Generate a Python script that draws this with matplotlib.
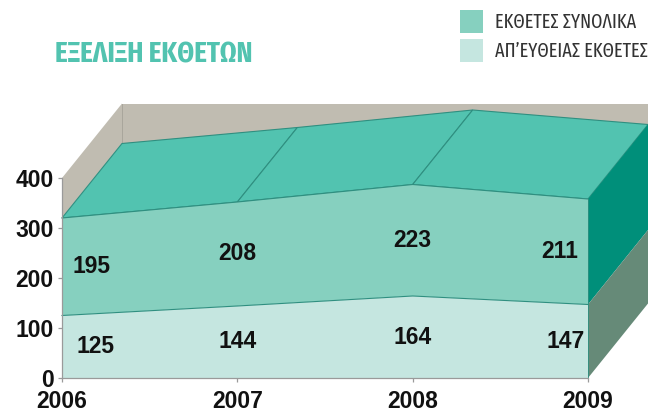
import matplotlib
matplotlib.use("Agg")
import matplotlib.pyplot as plt
import numpy as np
from matplotlib.patches import Patch

years = ["2006", "2007", "2008", "2009"]
direct = [125, 144, 164, 147]
total_extra = [195, 208, 223, 211]
yticks = [0, 100, 200, 300, 400]
title = "ΕΞΕΛΙΞΗ ΕΚΘΕΤΩΝ"
legend_labels = ["ΕΚΘΕΤΕΣ ΣΥΝΟΛΙΚΑ", "ΑΠ’ΕΥΘΕΙΑΣ ΕΚΘΕΤΕΣ"]

W, H = 648, 412
fig = plt.figure(figsize=(W/100, H/100), dpi=100, facecolor="white")
ax = fig.add_axes([62/W, (H-378)/H, (588-62)/W, 200/H])
ax.set_xlim(0, 3); ax.set_ylim(0, 400)
ax.patch.set_visible(False)

DX = 60/(526/3)   # depth offset in category units
DY = 149          # depth offset in value units
C_WALL = "#c0bcb1"; C_TOP = "#52c3b0"; C_MID = "#86d0bf"; C_LOW = "#c5e6e0"
C_SIDE1 = "#008f7a"; C_SIDE2 = "#668a78"; C_EDGE = "#2f8f80"

x = np.arange(len(years))
low = np.array(direct, float)
top = low + np.array(total_extra, float)
ymax = yticks[-1]

kw = dict(clip_on=False)
ax.fill([0, DX, DX, 0], [top[0], top[0]+DY, ymax+DY, ymax], color=C_WALL, lw=0, zorder=1, **kw)
ax.fill([DX, 3+DX, 3+DX, DX], [top[0]+DY, top[0]+DY, ymax+DY, ymax+DY], color=C_WALL, lw=0, zorder=1, **kw)
ax.plot([DX, DX], [top[0]+DY, ymax+DY], color="#a9a69c", lw=0.7, zorder=1.5, **kw)
for i in range(3):
    ax.fill([x[i], x[i+1], x[i+1]+DX, x[i]+DX],
            [top[i], top[i+1], top[i+1]+DY, top[i]+DY],
            facecolor=C_TOP, edgecolor=C_EDGE, lw=0.8, zorder=2, **kw)
ax.fill([3, 3+DX, 3+DX, 3], [low[3], low[3]+DY, top[3]+DY, top[3]], color=C_SIDE1, lw=0, zorder=2, **kw)
ax.fill([3, 3+DX, 3+DX, 3], [0, DY, low[3]+DY, low[3]], color=C_SIDE2, lw=0, zorder=2, **kw)
ax.fill_between(x, low, top, facecolor=C_MID, edgecolor="none", zorder=3, clip_on=False)
ax.fill_between(x, 0, low, facecolor=C_LOW, edgecolor="none", zorder=3, clip_on=False)
ax.plot(x, low, color=C_EDGE, lw=0.8, zorder=4, **kw)
ax.plot(x, top, color=C_EDGE, lw=0.8, zorder=4, **kw)
ax.plot([3, 3], [0, top[3]], color=C_EDGE, lw=0.6, zorder=4, **kw)

for s in ("top", "right"):
    ax.spines[s].set_visible(False)
for s in ("left", "bottom"):
    ax.spines[s].set_color("#9a9a9a"); ax.spines[s].set_linewidth(0.9); ax.spines[s].set_zorder(5)
ax.set_xticks(x, years)
ax.set_yticks(yticks)
ax.tick_params(axis="both", color="#9a9a9a", length=3, width=0.9, labelcolor="#111111")
ax.tick_params(axis="y", pad=3)
ax.tick_params(axis="x", pad=5.8)
for t in ax.get_xticklabels() + ax.get_yticklabels():
    t.set_fontfamily(["Liberation Sans", "DejaVu Sans"]); t.set_fontweight("bold"); t.set_fontsize(16.5)

low_off = [34, 0, 0, -22]
top_off = [30, 0, 0, -28]
for i in range(4):
    ax.annotate(str(direct[i]), (x[i], low[i]/2), xytext=(low_off[i]*0.72, 0), textcoords="offset points",
                ha="center", va="center", fontsize=16.5, fontweight="bold", color="#111111",
                family=["Liberation Sans", "DejaVu Sans"], zorder=6, annotation_clip=False)
    ax.annotate(str(total_extra[i]), (x[i], (low[i]+top[i])/2), xytext=(top_off[i]*0.72, 0), textcoords="offset points",
                ha="center", va="center", fontsize=16.5, fontweight="bold", color="#111111",
                family=["Liberation Sans", "DejaVu Sans"], zorder=6, annotation_clip=False)

narrow = ["Fira Sans Extra Condensed", "Roboto Condensed", "Liberation Sans", "DejaVu Sans"]
fig.text(55/W, (H-55)/H, title, color=C_TOP, fontsize=21, fontweight="bold", family=narrow, ha="left", va="center")
handles = [Patch(facecolor=C_MID, label=legend_labels[0]), Patch(facecolor=C_LOW, label=legend_labels[1])]
fig.legend(handles=handles, loc="upper left", bbox_to_anchor=(460/W, (H-10)/H), frameon=False,
           prop=dict(family=narrow, size=14.2), borderpad=0, borderaxespad=0, handlelength=1.17,
           handleheight=1.42, handletextpad=0.6, labelspacing=0.3, labelcolor="#333333")
fig.savefig("out.png", dpi=100)
